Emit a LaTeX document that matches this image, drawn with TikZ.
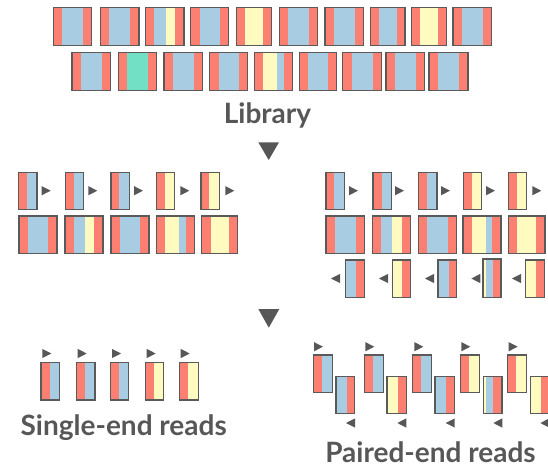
\documentclass[tikz,border=0pt]{standalone}
\usepackage{fontspec}
\setmainfont{Lato}
\definecolor{cr}{HTML}{FB8072}
\definecolor{cb}{HTML}{A8CDE2}
\definecolor{cy}{HTML}{FFFAC0}
\definecolor{cg}{HTML}{72E0C5}
\definecolor{ink}{HTML}{575757}
\definecolor{edge}{HTML}{5A5A5A}
\tikzset{
  frame/.style={draw=edge, line width=1.1pt},
  tri/.style={fill=ink},
  lbl/.style={text=ink, font=\bfseries\fontsize{28}{30}\selectfont, anchor=base, inner sep=0pt}
}
\newcommand\frag[4]{%
  \gdef\fragx{#1}%
  \foreach \cc/\ww in {#4}{%
    \fill[\cc] (\fragx,#2) rectangle ++(\ww,#3-#2);
    \pgfmathparse{\fragx+\ww}\xdef\fragx{\pgfmathresult}%
  }%
  \draw[frame] (#1,#2) rectangle (\fragx,#3);%
}
\newcommand\rarr[2]{\fill[tri] (#1,#2-4.6) -- (#1+9,#2) -- (#1,#2+4.6) -- cycle;}
\newcommand\larr[2]{\fill[tri] (#1+9,#2-4.6) -- (#1,#2) -- (#1+9,#2+4.6) -- cycle;}
\begin{document}
\begin{tikzpicture}[x=1pt,y=-1pt]
\useasboundingbox (0,0) rectangle (548,466);
\clip (0,0) rectangle (548,466);
% ---- library row 1
\frag{53.3}{7.3}{45.3}{cr/8.3,cb/21.3,cr/9}
\frag{100.3}{7.3}{45.3}{cr/8.7,cb/21,cr/9}
\frag{145.7}{7.3}{45.3}{cr/8.3,cb/12,cy/9,cr/9}
\frag{190.7}{7.3}{45.3}{cr/9.3,cb/20,cr/8.7}
\frag{236.3}{7.3}{45.3}{cr/8.7,cy/17.7,cr/8.7}
\frag{279.3}{7.3}{45.3}{cr/8.3,cb/21.3,cr/8.7}
\frag{325}{7.3}{45.3}{cr/8.7,cb/21.3,cr/8.7}
\frag{370.3}{7.3}{45.3}{cr/8.7,cb/18,cr/8}
\frag{411.3}{7.3}{45.3}{cr/8.7,cy/17.7,cr/9}
\frag{453}{7.3}{45.3}{cr/8.7,cb/21.3,cr/8.7}
% ---- library row 2
\frag{72}{52.7}{90.7}{cr/8.7,cb/21.3,cr/8.7}
\frag{118.3}{52.7}{90.7}{cr/8.3,cg/21,cr/9.3}
\frag{164}{52.7}{90.7}{cr/9,cb/20.7,cr/9}
\frag{209.7}{52.7}{90.7}{cr/9.3,cb/20,cr/8.7}
\frag{254.3}{52.7}{90.7}{cr/8.3,cy/14,cb/7.3,cr/8.3}
\frag{299.3}{52.7}{90.7}{cr/8.3,cb/20.3,cr/9}
\frag{342.7}{52.7}{90.7}{cr/9,cb/21.3,cr/8.3}
\frag{386}{52.7}{90.7}{cr/9,cb/21,cr/8.7}
\frag{429}{52.7}{90.7}{cr/8.7,cb/21.3,cr/9}
\node[lbl] (library) at (267.5,123.3) {Library};
\fill[tri] (258.3,142.3) -- (279,142.3) -- (268.7,160) -- cycle;
% ---- middle left
\frag{18.3}{172.3}{209.3}{cr/8.7,cb/10}   \rarr{41.7}{190.7}
\frag{65.7}{172.3}{209.3}{cr/8.3,cb/9.7}  \rarr{88.3}{190.7}
\frag{111}{172.3}{209.3}{cr/8.3,cb/10.3}  \rarr{134}{190.7}
\frag{156.3}{172.3}{209.3}{cr/8.7,cy/9.3} \rarr{180.3}{190.7}
\frag{201}{172.3}{209.3}{cr/8.3,cy/10}    \rarr{225.3}{190.7}
\frag{19}{216}{253.7}{cr/9,cb/20.3,cr/8.7}
\frag{65}{216}{253.7}{cr/8.7,cb/11.3,cy/9.3,cr/8.7}
\frag{111}{216}{253.7}{cr/9,cb/20,cr/9}
\frag{156.3}{216}{253.7}{cr/8.7,cy/14,cb/6.7,cr/8.7}
\frag{201.7}{216}{253.7}{cr/9,cy/18.3,cr/8.7}
% ---- middle right
\frag{326}{172.3}{209.3}{cr/8,cb/10.3}    \rarr{349}{190.7}
\frag{373}{172.3}{209.3}{cr/8.7,cb/10}    \rarr{395}{190.7}
\frag{418.3}{172.3}{209.3}{cr/9,cb/9.7}   \rarr{441}{190.7}
\frag{463.3}{172.3}{209.3}{cr/9,cy/9.3}   \rarr{486}{190.7}
\frag{508.3}{172.3}{209.3}{cr/8.7,cy/9.7} \rarr{532.3}{190.7}
\frag{326}{216}{253.7}{cr/9,cb/21,cr/8.3}
\frag{372.3}{216}{253.7}{cr/8.7,cb/11,cy/10,cr/8.3}
\frag{418.3}{216}{253.7}{cr/8.7,cb/21,cr/8.3}
\frag{463}{216}{253.7}{cr/9,cy/14,cb/6,cr/9}
\frag{508.3}{216}{253.7}{cr/8.7,cy/19,cr/9}
\larr{331}{278.5}   \frag{345.3}{260}{297.3}{cb/10.3,cr/8.7}
\larr{379}{278.5}   \frag{392.3}{260}{297.3}{cy/9.7,cr/8.7}
\larr{425}{278.5}   \frag{438}{260}{297.3}{cb/10.7,cr/8}
\larr{471.3}{278.5} \frag{483}{259}{297.3}{cy/2.7,cb/7.3,cr/8}
\larr{512}{278.5}   \frag{525.7}{260}{297.3}{cy/10.3,cr/8.3}
\fill[tri] (258.3,309) -- (279.3,309) -- (268.8,327.7) -- cycle;
% ---- single-end
\rarr{42.3}{353.5}  \frag{41}{362.7}{400}{cr/9,cb/9.7}
\rarr{77.7}{353.5}  \frag{76.3}{362.7}{400}{cr/8.7,cb/10}
\rarr{112}{353.5}   \frag{110.3}{362.7}{400}{cr/8.7,cb/9.7}
\rarr{146.7}{353.5} \frag{145.3}{362.7}{400}{cr/8.7,cy/9.7}
\rarr{180.7}{353.5} \frag{179.7}{362.7}{400}{cr/8.7,cy/10}
\node[lbl] (single) at (123.7,435) {Single-end reads};
% ---- paired-end
\rarr{314}{346.7}   \frag{313.3}{355}{392.7}{cr/8.7,cb/10.3}
\frag{336}{376.3}{413.7}{cb/10.7,cr/8}       \larr{346}{423}
\rarr{365.3}{346.7} \frag{364.7}{355}{392.7}{cr/8.7,cb/10}
\frag{387}{376.3}{413.7}{cy/10.7,cr/8.7}     \larr{397.3}{423}
\rarr{414.3}{346.7} \frag{412.7}{355}{392.7}{cr/8.3,cb/10.7}
\frag{435}{376.3}{413.7}{cb/10.7,cr/8.7}     \larr{445.7}{423}
\rarr{461.3}{346.7} \frag{460.7}{355}{392.7}{cr/8.7,cy/10.3}
\frag{483.3}{376.3}{413.7}{cy/2.7,cb/7.3,cr/8.7} \larr{493.3}{423}
\rarr{508.7}{346.7} \frag{507.3}{355}{392.7}{cr/8.7,cy/10.3}
\frag{530.3}{376.3}{413.7}{cy/10.7,cr/8.7}   \larr{540.3}{423}
\node[lbl] (paired) at (430.5,462.7) {Paired-end reads};
\end{tikzpicture}
\end{document}
